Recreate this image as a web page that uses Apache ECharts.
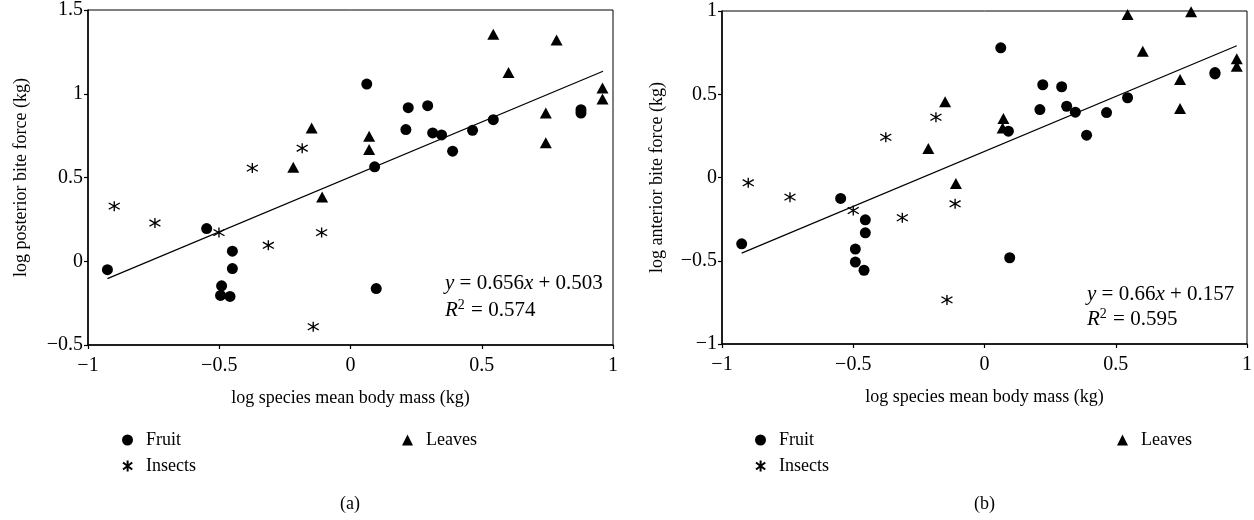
<!DOCTYPE html>
<html>
<head>
<meta charset="utf-8">
<script src="https://cdn.jsdelivr.net/npm/echarts@6/dist/echarts.min.js"></script>
<style>
html,body{margin:0;padding:0;background:#fff;}
#c{width:1254px;height:520px;}
</style>
</head>
<body>
<div id="c"></div>
<script>
// ---------- Data ----------
// Panel (a): log posterior bite force vs log species mean body mass
const fruitA = [
  [-0.926,-0.050],[-0.548,0.195],[-0.450,0.060],[-0.450,-0.044],[-0.491,-0.147],
  [-0.495,-0.204],[-0.459,-0.210],[0.098,-0.163],[0.062,1.058],[0.220,0.917],
  [0.294,0.929],[0.211,0.786],[0.313,0.766],[0.347,0.754],[0.389,0.657],
  [0.465,0.782],[0.544,0.845],[0.092,0.564],[0.878,0.885],[0.878,0.905]
];
const leavesA = [
  [-0.148,0.795],[-0.218,0.561],[-0.108,0.383],[0.071,0.746],[0.071,0.667],
  [0.544,1.355],[0.785,1.321],[0.602,1.127],[0.744,0.885],[0.744,0.707],
  [0.960,1.034],[0.960,0.968]
];
const insectsA = [
  [-0.900,0.329],[-0.745,0.228],[-0.374,0.556],[-0.184,0.675],[-0.501,0.171],
  [-0.313,0.095],[-0.142,-0.391],[-0.110,0.171]
];
const trendA = [[-0.926,-0.104],[0.962,1.134]];

// Panel (b): log anterior bite force vs log species mean body mass
const fruitB = [
  [-0.925,-0.398],[-0.548,-0.126],[-0.454,-0.254],[-0.454,-0.332],[-0.492,-0.430],
  [-0.492,-0.508],[-0.459,-0.557],[0.096,-0.482],[0.062,0.779],[0.222,0.557],
  [0.294,0.545],[0.211,0.408],[0.313,0.428],[0.346,0.392],[0.389,0.254],
  [0.465,0.390],[0.545,0.479],[0.091,0.278],[0.878,0.622],[0.878,0.630]
];
const leavesB = [
  [-0.150,0.455],[-0.214,0.174],[-0.109,-0.036],[0.072,0.354],[0.069,0.298],
  [0.545,0.979],[0.787,0.995],[0.603,0.759],[0.745,0.589],[0.745,0.414],
  [0.961,0.713],[0.961,0.668]
];
const insectsB = [
  [-0.900,-0.032],[-0.741,-0.118],[-0.376,0.242],[-0.185,0.362],[-0.500,-0.198],
  [-0.313,-0.242],[-0.112,-0.158],[-0.143,-0.735]
];
const trendB = [[-0.925,-0.454],[0.961,0.791]];

const xTicks = [-1, -0.5, 0, 0.5, 1];
const yTicksA = [-0.5, 0, 0.5, 1, 1.5];
const yTicksB = [-1, -0.5, 0, 0.5, 1];
const xName = 'log species mean body mass (kg)';
const yNameA = 'log posterior bite force (kg)';
const yNameB = 'log anterior bite force (kg)';
const eqA = ['0.656', '0.503', '0.574'];
const eqB = ['0.66', '0.157', '0.595'];
const captions = ['(a)', '(b)'];

// ---------- Styling ----------
const FONT = '"Liberation Serif", "Times New Roman", serif';
const star = 'path://M5,0L5,10M0.8,1.8L9.2,8.2M0.8,8.2L9.2,1.8';
const fmt = v => String(v).replace('-', '\u2212');

function xAxis(gi){
  return {
    type:'value', gridIndex:gi, min:-1, max:1, interval:0.5,
    name:xName, nameLocation:'middle', nameGap:44,
    nameTextStyle:{fontFamily:FONT, fontSize:18, color:'#000'},
    axisLine:{show:true, onZero:false, lineStyle:{color:'#000', width:1.5}},
    axisTick:{show:true, inside:false, length:4, lineStyle:{color:'#000', width:1.2}},
    axisLabel:{fontFamily:FONT, fontSize:20, color:'#000', margin:11, formatter:fmt},
    splitLine:{show:false}
  };
}
function yAxis(gi, min, max, name, gap){
  return {
    type:'value', gridIndex:gi, min:min, max:max, interval:0.5,
    name:name, nameLocation:'middle', nameGap:gap,
    nameTextStyle:{fontFamily:FONT, fontSize:18, color:'#000'},
    axisLine:{show:true, onZero:false, lineStyle:{color:'#000', width:1.5}},
    axisTick:{show:true, inside:false, length:4, lineStyle:{color:'#000', width:1.2}},
    axisLabel:{fontFamily:FONT, fontSize:20, color:'#000', margin:5, formatter:fmt},
    splitLine:{show:false}
  };
}
function scatter(name, data, gi, symbol, size){
  const s = {
    name:name, type:'scatter', xAxisIndex:gi, yAxisIndex:gi, data:data,
    symbol:symbol, symbolSize:size, z:3,
    itemStyle:{color:'#000', opacity:1},
    emphasis:{disabled:true}
  };
  if (symbol === star) {
    s.itemStyle = {color:'rgba(0,0,0,0)', borderColor:'#000', borderWidth:1.3, opacity:1};
  }
  return s;
}
function trend(data, gi){
  return {type:'line', xAxisIndex:gi, yAxisIndex:gi, data:data, symbol:'none',
    silent:true, lineStyle:{color:'#000', width:1.2}, z:2};
}
function legend(name, left, top){
  return {
    data:[name], left:left, top:top, orient:'horizontal', padding:0,
    itemWidth:11, itemHeight:11, selectedMode:false,
    textStyle:{fontFamily:FONT, fontSize:18, color:'#000', padding:[0,0,0,8]}
  };
}

const option = {
  backgroundColor:'#fff',
  animation:false,
  grid:[
    {left:88, right:641, top:10, bottom:175, show:true, borderColor:'#000', borderWidth:1, backgroundColor:'transparent', outerBoundsMode:'none'},
    {left:722, right:7, top:11, bottom:176, show:true, borderColor:'#000', borderWidth:1, backgroundColor:'transparent', outerBoundsMode:'none'}
  ],
  xAxis:[xAxis(0), xAxis(1)],
  yAxis:[yAxis(0, -0.5, 1.5, yNameA, 58), yAxis(1, -1, 1, yNameB, 56)],
  legend:[
    legend('Fruit', 122, 431), legend('Leaves', 402, 431), legend('Insects', 122, 457),
    legend('Fruit', 755, 431), legend('Leaves', 1117, 431), legend('Insects', 755, 457)
  ],
  series:[
    trend(trendA, 0),
    scatter('Fruit', fruitA, 0, 'circle', 11),
    scatter('Leaves', leavesA, 0, 'triangle', [12,11]),
    scatter('Insects', insectsA, 0, star, [11,10]),
    trend(trendB, 1),
    scatter('Fruit', fruitB, 1, 'circle', 11),
    scatter('Leaves', leavesB, 1, 'triangle', [12,11]),
    scatter('Insects', insectsB, 1, star, [11,10])
  ],
  graphic:[
    {type:'text', left:445, top:270, style:{
      text:'{i|y} = ' + eqA[0] + '{i|x} + ' + eqA[1] + '\n{i|R}{sup|2} = ' + eqA[2],
      font:'21px ' + FONT, fill:'#000', lineHeight:27,
      rich:{i:{fontStyle:'italic', fontFamily:FONT, fontSize:21, lineHeight:27},
            sup:{fontFamily:FONT, fontSize:14, padding:[0,1,10,0], lineHeight:27}}
    }},
    {type:'text', left:1087, top:282, style:{
      text:'{i|y} = ' + eqB[0] + '{i|x} + ' + eqB[1] + '\n{i|R}{sup|2} = ' + eqB[2],
      font:'21px ' + FONT, fill:'#000', lineHeight:25,
      rich:{i:{fontStyle:'italic', fontFamily:FONT, fontSize:21, lineHeight:25},
            sup:{fontFamily:FONT, fontSize:14, padding:[0,1,10,0], lineHeight:25}}
    }},
    {type:'text', left:340, top:495, style:{text:captions[0], font:'18px ' + FONT, fill:'#000'}},
    {type:'text', left:974, top:495, style:{text:captions[1], font:'18px ' + FONT, fill:'#000'}}
  ]
};

const chart = echarts.init(document.getElementById('c'), null, {renderer:'canvas'});
chart.setOption(option);
</script>
</body>
</html>
